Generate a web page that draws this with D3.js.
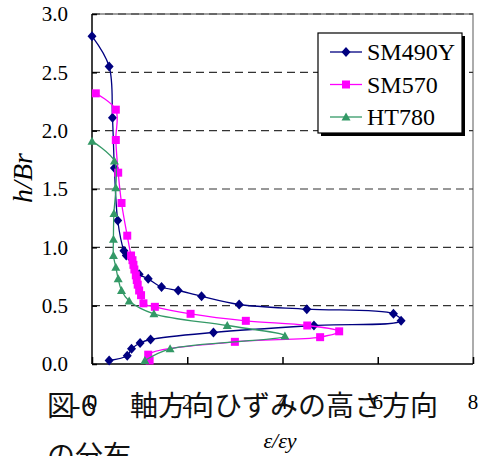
<!DOCTYPE html>
<html>
<head>
<meta charset="utf-8">
<script src="https://cdn.jsdelivr.net/npm/d3@7"></script>
<style>
  html, body { margin: 0; padding: 0; background: #fff; }
  svg { display: block; }
  .serif { font-family: "Liberation Serif", "Times New Roman", serif; }
  .jp { font-family: "Noto Sans CJK JP", "Noto Sans CJK SC", sans-serif; }
</style>
</head>
<body>
<div class="chart-container"></div>
<script>
// strain ratio (x) and height ratio h/Br (y)
const sm490yX = [0.00, 0.36, 0.43, 0.47, 0.54, 0.67, 0.72, 0.99, 1.18, 1.46, 1.81, 2.30, 3.09, 4.51, 6.33, 6.49, 4.66, 2.55, 1.23, 1.01, 0.83, 0.74, 0.36];
const sm490yY = [2.81, 2.55, 2.11, 1.68, 1.23, 0.97, 0.93, 0.77, 0.73, 0.66, 0.63, 0.58, 0.51, 0.47, 0.43, 0.37, 0.33, 0.27, 0.21, 0.18, 0.13, 0.07, 0.03];

const sm570X = [0.08, 0.50, 0.50, 0.55, 0.62, 0.74, 0.82, 0.85, 0.87, 0.89, 0.92, 0.94, 0.96, 0.99, 1.03, 1.08, 1.32, 2.07, 3.23, 4.52, 5.19, 4.79, 3.00, 1.18, 1.21];
const sm570Y = [2.32, 2.18, 1.92, 1.64, 1.38, 1.10, 0.93, 0.89, 0.85, 0.81, 0.76, 0.72, 0.68, 0.63, 0.59, 0.52, 0.49, 0.43, 0.37, 0.33, 0.28, 0.23, 0.19, 0.08, 0.03];

const ht780X = [0.00, 0.47, 0.50, 0.46, 0.45, 0.45, 0.50, 0.55, 0.62, 0.78, 1.30, 2.84, 4.05, 1.64, 1.11];
const ht780Y = [1.91, 1.74, 1.51, 1.29, 1.07, 0.93, 0.83, 0.73, 0.63, 0.54, 0.43, 0.33, 0.24, 0.13, 0.03];

const seriesNames = ['SM490Y', 'SM570', 'HT780'];
const xTicks = [0, 2, 4, 6, 8];
const yTicks = [0.0, 0.5, 1.0, 1.5, 2.0, 2.5, 3.0];

const width = 483;
const height = 456;
const plot = { left: 92, right: 473, top: 14, bottom: 364 };

const series = [
  { name: seriesNames[0], xs: sm490yX, ys: sm490yY, color: '#000080', marker: 'diamond' },
  { name: seriesNames[1], xs: sm570X, ys: sm570Y, color: '#ff00ff', marker: 'square' },
  { name: seriesNames[2], xs: ht780X, ys: ht780Y, color: '#339966', marker: 'triangle' }
];

const svg = d3.select('.chart-container')
  .append('svg')
  .attr('width', width)
  .attr('height', height);

const x = d3.scaleLinear().domain([0, 8]).range([plot.left, plot.right]);
const y = d3.scaleLinear().domain([0, 3]).range([plot.bottom, plot.top]);

// gray frame (top/right)
svg.append('path')
  .attr('d', `M${plot.left},${plot.top}H${plot.right}V${plot.bottom}`)
  .attr('fill', 'none')
  .attr('stroke', '#808080')
  .attr('stroke-width', 1.3);

// dashed grid lines
svg.append('g')
  .selectAll('line')
  .data(yTicks.filter(d => d > 0))
  .enter()
  .append('line')
  .attr('x1', plot.left)
  .attr('x2', plot.right)
  .attr('y1', d => y(d))
  .attr('y2', d => y(d))
  .attr('stroke', '#333')
  .attr('stroke-width', 1.2)
  .attr('stroke-dasharray', '8,5');

// y axis, ticks pointing inside
const yAxis = svg.append('g')
  .attr('transform', `translate(${plot.left},0)`)
  .call(d3.axisRight(y).tickValues(yTicks).tickSize(5).tickFormat(''));
yAxis.selectAll('line, path').attr('stroke', '#000').attr('stroke-width', 1.5);
yAxis.select('.domain').attr('d', `M0,${plot.top}V${plot.bottom}`);

svg.append('g')
  .selectAll('text')
  .data(yTicks)
  .enter()
  .append('text')
  .attr('class', 'serif')
  .attr('x', plot.left - 24)
  .attr('y', d => y(d))
  .attr('dy', '0.35em')
  .attr('text-anchor', 'end')
  .attr('font-size', 21)
  .text(d => d3.format('.1f')(d));

// x axis, ticks pointing inside
const xAxis = svg.append('g')
  .attr('transform', `translate(0,${plot.bottom})`)
  .call(d3.axisTop(x).tickValues(xTicks).tickSize(7).tickFormat(''));
xAxis.selectAll('line, path').attr('stroke', '#000').attr('stroke-width', 1.5);
xAxis.select('.domain').attr('d', `M${plot.left},0H${plot.right}`);

svg.append('g')
  .selectAll('text')
  .data(xTicks)
  .enter()
  .append('text')
  .attr('class', 'serif')
  .attr('x', d => x(d))
  .attr('y', 409)
  .attr('text-anchor', 'middle')
  .attr('font-size', 21)
  .text(d => d);

// axis titles
svg.append('text')
  .attr('class', 'serif')
  .attr('transform', 'translate(32,178) rotate(-90)')
  .attr('text-anchor', 'middle')
  .attr('font-style', 'italic')
  .attr('font-size', 28)
  .text('h/Br');

svg.append('text')
  .attr('class', 'serif')
  .attr('x', 280)
  .attr('y', 448)
  .attr('text-anchor', 'middle')
  .attr('font-style', 'italic')
  .attr('font-size', 22)
  .text('ε/εy');

// marker shapes
function markerPath(type) {
  if (type === 'diamond') return 'M0,-5L4.5,0L0,5L-4.5,0Z';
  if (type === 'square') return 'M-4,-4H4V4H-4Z';
  return 'M0,-4.5L4.5,3.5H-4.5Z';
}

const line = d3.line()
  .x(d => x(d[0]))
  .y(d => y(d[1]))
  .curve(d3.curveCatmullRom.alpha(0.5));

series.forEach(s => {
  const pts = s.xs.map((v, i) => [v, s.ys[i]]);
  const g = svg.append('g');
  g.append('path')
    .attr('d', line(pts))
    .attr('fill', 'none')
    .attr('stroke', s.color)
    .attr('stroke-width', 1.3);
  g.selectAll('path.mark')
    .data(pts)
    .enter()
    .append('path')
    .attr('class', 'mark')
    .attr('transform', d => `translate(${x(d[0])},${y(d[1])})`)
    .attr('d', markerPath(s.marker))
    .attr('fill', s.color);
});

// legend with drop shadow
const legend = svg.append('g').attr('transform', 'translate(318,33)');
legend.append('rect')
  .attr('x', 3).attr('y', 3).attr('width', 144).attr('height', 100)
  .attr('fill', '#000');
legend.append('rect')
  .attr('width', 144).attr('height', 100)
  .attr('fill', '#fff')
  .attr('stroke', '#000')
  .attr('stroke-width', 1.2);

const entries = legend.selectAll('g.entry')
  .data(series)
  .enter()
  .append('g')
  .attr('class', 'entry')
  .attr('transform', (d, i) => `translate(0,${19 + i * 32.5})`);
entries.append('line')
  .attr('x1', 12).attr('x2', 44)
  .attr('stroke', d => d.color)
  .attr('stroke-width', 1.3);
entries.append('path')
  .attr('transform', 'translate(28,0)')
  .attr('d', d => markerPath(d.marker))
  .attr('fill', d => d.color);
entries.append('text')
  .attr('class', 'serif')
  .attr('x', 49)
  .attr('dy', '0.35em')
  .attr('font-size', 24)
  .text(d => d.name);

// caption overlapping the bottom of the figure
const cap = svg.append('text')
  .attr('class', 'jp')
  .attr('font-size', 28)
  .attr('fill', '#111');
cap.append('tspan').attr('x', 47).attr('y', 416).text('図');
cap.append('tspan').attr('x', 71).attr('y', 416).text('-6');
cap.append('tspan').attr('x', 130).attr('y', 416).text('軸方向ひずみの高さ方向');
svg.append('text')
  .attr('class', 'jp')
  .attr('x', 47)
  .attr('y', 466)
  .attr('font-size', 28)
  .attr('fill', '#111')
  .text('の分布');
</script>
</body>
</html>
